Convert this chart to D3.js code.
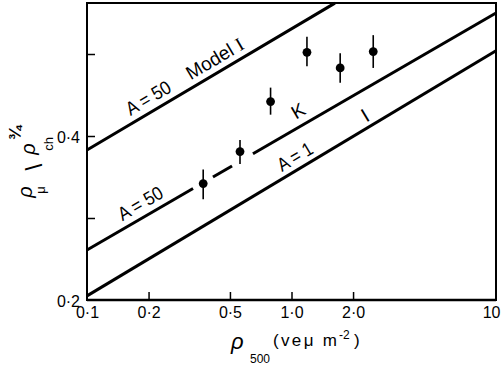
<!DOCTYPE html>
<html>
<head>
<meta charset="utf-8">
<script src="https://cdn.jsdelivr.net/npm/d3@7"></script>
<style>
  html, body { margin: 0; padding: 0; background: #fff; }
  svg { display: block; }
  text { font-family: "Liberation Sans", Arial, sans-serif; fill: #000; }
</style>
</head>
<body>
<svg id="chart" width="501" height="371"></svg>
<script>
// ---------- data ----------
const xTickValues = [0.1, 0.2, 0.5, 1, 2, 10];
const xTickLabels = ["0·1", "0·2", "0·5", "1·0", "2·0", "10"];
const yTickValues = [0.2, 0.3, 0.4, 0.5];
const yTickLabels = ["0·2", "", "0·4", ""];

// measured points (rho_500, rho_mu / rho_ch^3/4) with error bars
const pointX    = [0.37, 0.56, 0.79, 1.19, 1.73, 2.51];
const pointY    = [0.342, 0.381, 0.442, 0.502, 0.483, 0.503];
const pointLow  = [0.323, 0.366, 0.426, 0.485, 0.465, 0.483];
const pointHigh = [0.359, 0.395, 0.459, 0.521, 0.501, 0.523];

// model curves (end points)
const modelA50IX = [0.1, 1.63];
const modelA50IY = [0.383, 0.562];
const modelKX = [0.1, 10];
const modelKY = [0.261, 0.550];
const modelKSolid1 = [0.1, 0.33];
const modelKDash   = [0.413, 0.512];
const modelKSolid2 = [0.648, 10];
const modelA1X = [0.1, 10];
const modelA1Y = [0.205, 0.504];

// ---------- chart ----------
const svg = d3.select("#chart");
const mLeft = 87, mRight = 496, mTop = 3, mBottom = 300;
const x = d3.scaleLog().domain([0.1, 10]).range([mLeft, mRight]);
const y = d3.scaleLinear().domain([0.2, 0.5622]).range([mBottom, mTop]);

function yAt(xs, ys, xv) {
  const t = (Math.log10(xv) - Math.log10(xs[0])) / (Math.log10(xs[1]) - Math.log10(xs[0]));
  return ys[0] + (ys[1] - ys[0]) * t;
}
const line = d3.line().x(d => x(d[0])).y(d => y(d[1]));

// frame
svg.append("rect")
  .attr("x", mLeft).attr("y", mTop)
  .attr("width", mRight - mLeft).attr("height", mBottom - mTop)
  .attr("fill", "none").attr("stroke", "#000").attr("stroke-width", 2);
svg.append("line").attr("x1", mLeft).attr("x2", mRight).attr("y1", mBottom).attr("y2", mBottom)
  .attr("stroke", "#000").attr("stroke-width", 2.6);

// x ticks (inward)
const xAxis = d3.axisBottom(x).tickValues(xTickValues).tickSize(-8).tickFormat((d, i) => xTickLabels[i]);
const gx = svg.append("g").attr("transform", `translate(0,${mBottom})`).call(xAxis);
gx.select(".domain").remove();
gx.selectAll(".tick line").attr("stroke", "#000").attr("stroke-width", 1.5)
  .filter(d => d === 0.1 || d === 10).remove();
gx.selectAll(".tick text").attr("font-size", 16).attr("font-family", "Liberation Sans, Arial, sans-serif")
  .attr("y", 18).attr("dy", 0);
gx.selectAll(".tick text").filter(d => d === 10).attr("text-anchor", "end").attr("x", 4);

// y ticks (inward)
const yAxis = d3.axisLeft(y).tickValues(yTickValues).tickSize(-8).tickFormat((d, i) => yTickLabels[i]);
const gy = svg.append("g").attr("transform", `translate(${mLeft},0)`).call(yAxis);
gy.select(".domain").remove();
gy.selectAll(".tick line").attr("stroke", "#000").attr("stroke-width", 1.5)
  .filter(d => d === 0.2).remove();
gy.selectAll(".tick text").attr("font-size", 16).attr("font-family", "Liberation Sans, Arial, sans-serif")
  .attr("x", -7).attr("dy", 6);

// model lines
const curveStyle = sel => sel.attr("fill", "none").attr("stroke", "#000").attr("stroke-width", 3);
svg.append("path").datum(modelA50IX.map((v, i) => [v, modelA50IY[i]])).attr("d", line).call(curveStyle);
[modelKSolid1, modelKDash, modelKSolid2].forEach(seg => {
  svg.append("path").datum(seg.map(v => [v, yAt(modelKX, modelKY, v)])).attr("d", line).call(curveStyle);
});
svg.append("path").datum(modelA1X.map((v, i) => [v, modelA1Y[i]])).attr("d", line).call(curveStyle);

// points with error bars
pointX.forEach((xv, i) => {
  svg.append("line").attr("x1", x(xv)).attr("x2", x(xv))
    .attr("y1", y(pointLow[i])).attr("y2", y(pointHigh[i]))
    .attr("stroke", "#000").attr("stroke-width", 1.6);
  svg.append("circle").attr("cx", x(xv)).attr("cy", y(pointY[i])).attr("r", 4.4).attr("fill", "#000");
});

// labels along lines
function angleOf(xs, ys) {
  return Math.atan2(y(ys[1]) - y(ys[0]), x(xs[1]) - x(xs[0])) * 180 / Math.PI;
}
function label(xs, ys, xv, off, size, anchor, family) {
  const px = x(xv), py = y(yAt(xs, ys, xv));
  const g = svg.append("g").attr("transform", `translate(${px},${py}) rotate(${angleOf(xs, ys)})`);
  const t = g.append("text").attr("x", 0).attr("y", off).attr("font-size", size)
    .attr("text-anchor", anchor || "start");
  if (family) t.attr("font-family", family);
  return t;
}
let t;
label(modelA50IX, modelA50IY, 0.170, -7, 19).attr("textLength", 49).attr("lengthAdjust", "spacingAndGlyphs").text("A = 50");
t = label(modelA50IX, modelA50IY, 0.335, -7, 19);
t.append("tspan").text("Model ");
t.append("tspan").attr("font-family", "Liberation Serif, serif").text("I");

label(modelKX, modelKY, 0.155, -7, 19).attr("textLength", 49).attr("lengthAdjust", "spacingAndGlyphs").text("A = 50");
label(modelKX, modelKY, 1.17, -8, 19, "middle").text("K");
label(modelA1X, modelA1Y, 0.93, -6, 19).attr("textLength", 38).attr("lengthAdjust", "spacingAndGlyphs").text("A = 1");
label(modelA1X, modelA1Y, 2.45, -5, 20, "middle", "Liberation Serif, serif").text("I");

// x axis title
const xt = svg.append("g");
xt.append("text").attr("x", 231).attr("y", 349).attr("font-size", 22).attr("font-style", "italic").text("ρ");
xt.append("text").attr("x", 250).attr("y", 363).attr("font-size", 12).text("500");
xt.append("text").attr("x", 273).attr("y", 346).attr("font-size", 17)
  .attr("textLength", 64).attr("lengthAdjust", "spacing").text("(veμ m");
xt.append("text").attr("x", 339).attr("y", 339).attr("font-size", 12).text("-2");
xt.append("text").attr("x", 354).attr("y", 346).attr("font-size", 17).text(")");

// y axis title (rotated pieces)
function yPiece(bx, cy, txt, size, opts) {
  const g = svg.append("g").attr("transform", `translate(${bx},${cy}) rotate(-90)`);
  const tt = g.append("text").attr("text-anchor", "middle").attr("font-size", size).text(txt);
  if (opts && opts.italic) tt.attr("font-style", "italic");
  if (opts && opts.bold) tt.attr("font-weight", "bold");
  if (opts && opts.flip) tt.attr("transform", "scale(-1,1)");
  return tt;
}
yPiece(32, 192, "ρ", 20, {italic: true});
yPiece(45, 190, "μ", 13);
yPiece(42, 167, "/", 24, {flip: true});
yPiece(35, 149, "ρ", 20, {italic: true});
yPiece(52.5, 144, "ch", 13);
yPiece(21, 133, "¾", 17, {bold: true});
</script>
</body>
</html>
